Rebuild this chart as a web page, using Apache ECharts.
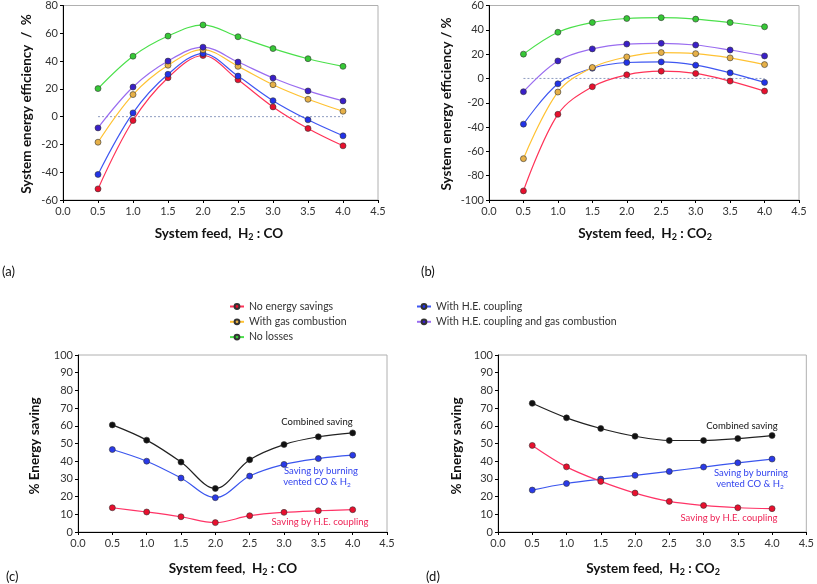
<!DOCTYPE html>
<html><head><meta charset="utf-8">
<script src="https://cdn.jsdelivr.net/npm/echarts@6/dist/echarts.min.js"></script>
<style>html,body{margin:0;padding:0;background:#fff}#c{width:817px;height:584px}</style>
</head><body><div id="c"></div>
<script>
const xs = [0.5, 1.0, 1.5, 2.0, 2.5, 3.0, 3.5, 4.0];
const xTicks = [0.0, 0.5, 1.0, 1.5, 2.0, 2.5, 3.0, 3.5, 4.0, 4.5];
const yTicksA = [-60, -40, -20, 0, 20, 40, 60, 80];
const yTicksB = [-100, -80, -60, -40, -20, 0, 20, 40, 60];
const yTicksCD = [0, 10, 20, 30, 40, 50, 60, 70, 80, 90, 100];
const names = ['No energy savings', 'With H.E. coupling', 'With gas combustion', 'With H.E. coupling and gas combustion', 'No losses'];
// (a) H2:CO
const aNoSave = [-52, -2.8, 28, 44, 26.5, 7, -8.5, -21];
const aHE = [-41.6, 2.7, 30.5, 45.4, 29.2, 11.5, -2.3, -13.8];
const aGas = [-18.4, 15.9, 37, 48.2, 36.2, 23, 12.5, 3.9];
const aHEGas = [-8.1, 21.3, 40, 50, 39.3, 27.8, 18.5, 11.3];
const aNoLoss = [20.2, 43.5, 58, 66, 57.5, 49, 41.7, 36.2];
// (b) H2:CO2
const bNoSave = [-92.5, -29.5, -6.8, 3, 6, 4.1, -2.2, -10.4];
const bHE = [-37.6, -4.4, 8.4, 13.1, 13.6, 10.9, 4.6, -3.3];
const bGas = [-66, -11.2, 9, 17.7, 21.3, 20.4, 16.9, 11.4];
const bHEGas = [-10.9, 14.4, 24.3, 28.3, 28.9, 27.5, 23.4, 18.5];
const bNoLoss = [20, 38, 46, 49.3, 50, 48.8, 46, 42.5];
// (c) H2:CO savings
const cCombined = [60.5, 51.9, 39.5, 24.6, 40.8, 49.4, 53.8, 56];
const cBurn = [46.6, 40, 30.5, 19.4, 31.6, 38.2, 41.5, 43.4];
const cHE = [13.7, 11.3, 8.6, 5.3, 9.2, 11.1, 12, 12.6];
// (d) H2:CO2 savings
const dCombined = [72.7, 64.5, 58.5, 54.1, 51.7, 51.7, 52.8, 54.5];
const dBurn = [23.7, 27.4, 29.9, 32, 34.2, 36.7, 39.1, 41.2];
const dHE = [48.9, 36.8, 28.6, 22, 17.3, 15, 13.7, 13.2];
const zeroLine = [[0.5, 0], [4.0, 0]];

const FONT = 'Lato, "Open Sans", sans-serif';
const lineCols = ['#ff3358', '#3f57f2', '#ffc233', '#9a6df0', '#4be04b'];
const markCols = ['#e8102e', '#2233e8', '#e6b048', '#3a20c8', '#36c836'];

function pair(a, v) { return a.map((x, i) => [x, v[i]]); }

const grids = [
  {left: 63, right: 439, top: 5, bottom: 384},
  {left: 489, right: 18, top: 5, bottom: 384},
  {left: 78, right: 430, top: 355, bottom: 52},
  {left: 498, right: 10, top: 355, bottom: 52}
].map(g => Object.assign(g, {show: true, borderColor: '#b0b0b0', borderWidth: 1, containLabel: false}));

const axLbl = {color: '#333', fontSize: 11, fontFamily: FONT};
const xAxes = grids.map((g, i) => ({
  type: 'value', gridIndex: i, min: 0, max: 4.5, interval: 0.5,
  axisLine: {show: true, onZero: false, lineStyle: {color: '#000', width: 1}},
  axisTick: {show: true, length: 3, lineStyle: {color: '#000'}},
  splitLine: {show: false},
  axisLabel: Object.assign({margin: 6, formatter: v => v.toFixed(1)}, axLbl)
}));
const yRanges = [[-60, 80, 20], [-100, 60, 20], [0, 100, 10], [0, 100, 10]];
const yAxes = yRanges.map((r, i) => ({
  type: 'value', gridIndex: i, min: r[0], max: r[1], interval: r[2],
  axisLine: {show: true, onZero: false, lineStyle: {color: '#000', width: 1}},
  axisTick: {show: true, length: 3, lineStyle: {color: '#000'}},
  splitLine: {show: false},
  axisLabel: Object.assign({margin: 5}, axLbl)
}));

const series = [];
function addEff(idx, arrs) {
  series.push({type: 'line', xAxisIndex: idx, yAxisIndex: idx, data: zeroLine, symbol: 'none', silent: true,
    lineStyle: {color: '#8e9cc0', width: 1, type: [2, 2]}, z: 1});
  arrs.forEach((v, k) => {
    series.push({type: 'line', name: names[k], xAxisIndex: idx, yAxisIndex: idx, data: pair(xs, v),
      smooth: 0.35, symbol: 'circle', symbolSize: 6,
      lineStyle: {color: lineCols[k], width: 1.2},
      itemStyle: {color: markCols[k], borderColor: '#333', borderWidth: 0.6}, z: 3 + k});
  });
}
addEff(0, [aNoSave, aHE, aGas, aHEGas, aNoLoss]);
addEff(1, [bNoSave, bHE, bGas, bHEGas, bNoLoss]);
function addSave(idx, comb, burn, he) {
  const defs = [[comb, '#222', '#111', 'Combined saving'], [burn, '#3a55ee', '#2a3ae8', 'Saving by burning vented CO & H2'], [he, '#ff3366', '#e8102e', 'Saving by H.E. coupling']];
  defs.forEach(d => series.push({type: 'line', name: d[3], xAxisIndex: idx, yAxisIndex: idx, data: pair(xs, d[0]),
    smooth: 0.35, symbol: 'circle', symbolSize: 6,
    lineStyle: {color: d[1], width: 1.2}, itemStyle: {color: d[2], borderColor: '#333', borderWidth: 0.6}}));
}
addSave(2, cCombined, cBurn, cHE);
addSave(3, dCombined, dBurn, dHE);

const legTxt = {color: '#333', fontSize: 10.5, fontFamily: FONT, lineHeight: 13};
const legends = [
  {data: [names[0], names[2], names[4]], left: 229, top: 300},
  {data: [names[1], names[3]], left: 416, top: 300}
].map(l => Object.assign(l, {orient: 'vertical', itemWidth: 14, itemHeight: 6, itemGap: 2.3, textStyle: legTxt, padding: 0}));

const titleRich = {
  a: {fontSize: 13.5, fontWeight: 'bold', fontFamily: FONT, color: '#111'},
  s: {fontSize: 9, fontWeight: 'bold', fontFamily: FONT, color: '#111', padding: [7, 0, 0, 0]}
};
function txt(x, y, text, opts) {
  return Object.assign({type: 'text', x: x, y: y, style: Object.assign({text: text, fill: '#111', font: 'bold 13.5px ' + FONT, textAlign: 'center', textVerticalAlign: 'middle', rich: titleRich}, opts || {})});
}
function note(x, y, text, color) {
  return {type: 'text', x: x, y: y, style: {text: text, fill: color, font: '9.5px ' + FONT, textAlign: 'center', textVerticalAlign: 'middle', rich: {
    a: {fontSize: 9.5, fontFamily: FONT, color: color}, s: {fontSize: 6.5, fontFamily: FONT, color: color, padding: [5, 0, 0, 0]}}}};
}
const graphics = [
  txt(219, 234, '{a|System feed,  H}{s|2}{a| : CO}'),
  txt(645, 234, '{a|System feed,  H}{s|2}{a| : CO}{s|2}'),
  txt(233, 569, '{a|System feed,  H}{s|2}{a| : CO}'),
  txt(653, 569, '{a|System feed,  H}{s|2}{a| : CO}{s|2}'),
  Object.assign(txt(27, 104, '{a|System energy efficiency  /  %}'), {rotation: Math.PI / 2}),
  Object.assign(txt(447, 104, '{a|System energy efficiency / %}'), {rotation: Math.PI / 2}),
  Object.assign(txt(35, 446, '{a|% Energy saving}'), {rotation: Math.PI / 2}),
  Object.assign(txt(457, 446, '{a|% Energy saving}'), {rotation: Math.PI / 2}),
  {type: 'text', x: 2, y: 272, style: {text: '(a)', fill: '#111', font: '13px ' + FONT, textVerticalAlign: 'middle'}},
  {type: 'text', x: 421, y: 272, style: {text: '(b)', fill: '#111', font: '13px ' + FONT, textVerticalAlign: 'middle'}},
  {type: 'text', x: 6, y: 577, style: {text: '(c)', fill: '#111', font: '13px ' + FONT, textVerticalAlign: 'middle'}},
  {type: 'text', x: 426, y: 577, style: {text: '(d)', fill: '#111', font: '13px ' + FONT, textVerticalAlign: 'middle'}},
  note(317, 422, '{a|Combined saving}', '#111'),
  note(321, 471, '{a|Saving by burning}', '#3344ee'),
  note(317, 482, '{a|vented CO & H}{s|2}', '#3344ee'),
  note(320, 522, '{a|Saving by H.E. coupling}', '#ee2255'),
  note(742, 426, '{a|Combined saving}', '#111'),
  note(751, 473, '{a|Saving by burning}', '#3344ee'),
  note(750, 484, '{a|vented CO & H}{s|2}', '#3344ee'),
  note(729, 518, '{a|Saving by H.E. coupling}', '#ee2255')
];

const chart = echarts.init(document.getElementById('c'), null, {renderer: 'canvas'});
chart.setOption({
  animation: false,
  backgroundColor: '#fff',
  textStyle: {fontFamily: FONT},
  grid: grids, xAxis: xAxes, yAxis: yAxes,
  legend: legends,
  series: series,
  graphic: graphics
});
</script></body></html>
